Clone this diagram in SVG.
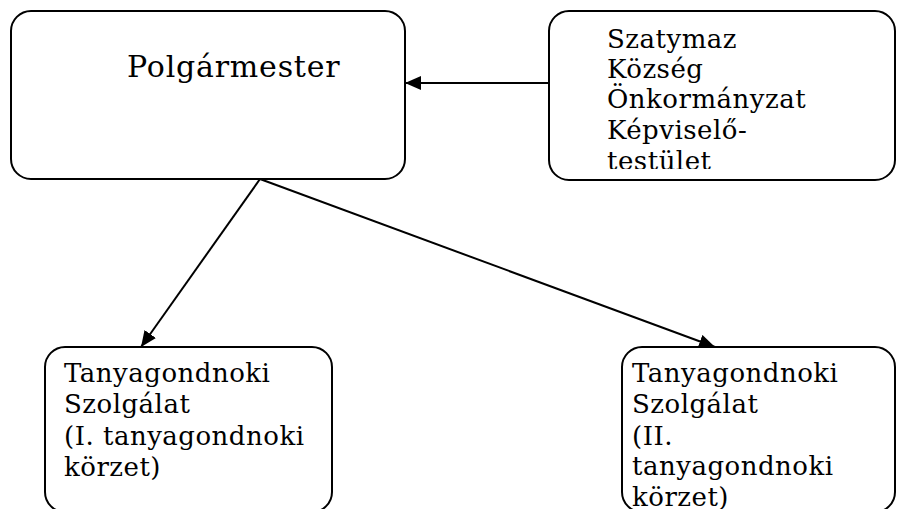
<svg xmlns="http://www.w3.org/2000/svg" width="897" height="509" viewBox="0 0 897 509">
<style>
.box{fill:#fff;stroke:#000;stroke-width:2}
.t{font-family:"DejaVu Serif","Liberation Serif",serif;font-size:26px;letter-spacing:0.5px;fill:#000}
.big{font-size:30px;letter-spacing:0.8px}
.edge{stroke:#000;stroke-width:2;fill:none}
</style>
<defs>
<marker id="arr" markerUnits="userSpaceOnUse" markerWidth="18" markerHeight="16" refX="16" refY="7" orient="auto">
<path d="M0,0 L16,7 L0,14 Z" fill="#000"/>
</marker>
<clipPath id="c2"><rect x="549" y="11" width="348" height="158"/></clipPath>
</defs>
<rect width="897" height="509" fill="#fff"/>
<g id="polgarmester">
<rect class="box" x="11" y="11" width="394" height="168" rx="20"/>
<text class="t big" x="127" y="77">Polgármester</text>
</g>
<g id="kepviselotestulet">
<rect class="box" x="549" y="11" width="346" height="169" rx="20"/>
<g clip-path="url(#c2)">
<text class="t" x="607"><tspan x="607" y="48">Szatymaz</tspan><tspan x="607" y="78">Község</tspan><tspan x="607" y="108">Önkormányzat</tspan><tspan x="607" y="139">Képviselő-</tspan><tspan x="607" y="170">testület</tspan></text>
</g>
</g>
<g id="korzet1">
<rect class="box" x="45" y="347" width="287" height="165" rx="20"/>
<text class="t" x="64"><tspan x="64" y="382">Tanyagondnoki</tspan><tspan x="64" y="413">Szolgálat</tspan><tspan x="64" y="445">(I. tanyagondnoki</tspan><tspan x="64" y="476">körzet)</tspan></text>
</g>
<g id="korzet2">
<rect class="box" x="622" y="347" width="273" height="165" rx="20"/>
<text class="t" x="632"><tspan x="632" y="382">Tanyagondnoki</tspan><tspan x="632" y="413">Szolgálat</tspan><tspan x="632" y="445">(II.</tspan><tspan x="632" y="475">tanyagondnoki</tspan><tspan x="632" y="506">körzet)</tspan></text>
</g>
<g id="connectors">
<line class="edge" x1="549" y1="83" x2="405" y2="83" marker-end="url(#arr)"/>
<line class="edge" x1="260" y1="179" x2="141" y2="347" marker-end="url(#arr)"/>
<line class="edge" x1="260" y1="179" x2="715" y2="347" marker-end="url(#arr)"/>
</g>
</svg>
